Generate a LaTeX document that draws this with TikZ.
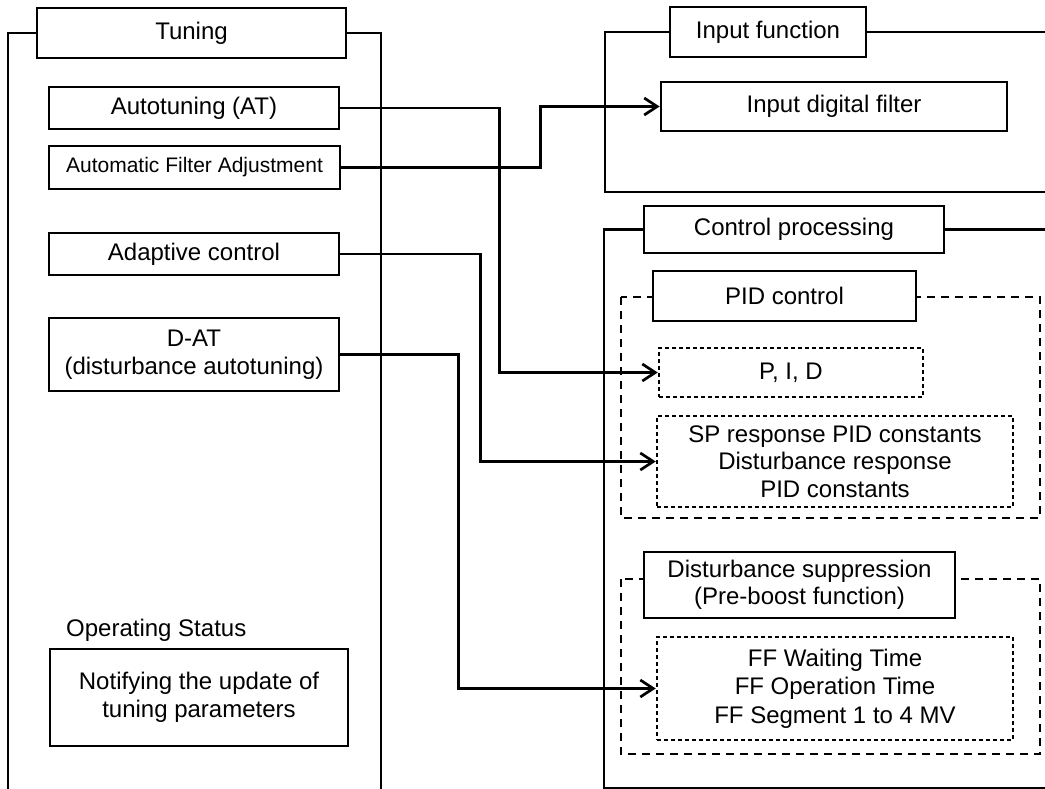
\documentclass[tikz,border=0pt]{standalone}
\usepackage{fontspec}
\setmainfont{Liberation Sans}
\usepackage{tikz}
\usetikzlibrary{arrows.meta, positioning, calc}

\tikzset{
  box/.style={draw, line width=2.7pt, fill=white, inner sep=0pt, align=center,
    font=\fontsize{24}{27.5}\selectfont},
  dotbox/.style={box, dash pattern=on 4pt off 3pt, line width=2.5pt},
  frame/.style={line width=2.7pt},
  dashframe/.style={line width=2.5pt, dash pattern=on 8pt off 6pt},
  link/.style={->, line width=2.7pt},
}

\begin{document}
\begin{tikzpicture}[x=1pt, y=-1pt, >={Straight Barb[length=13pt,width=17pt]}]
\useasboundingbox (0,0) rectangle (1045,789);

% tuning side
\node[box, minimum width=309pt, minimum height=50pt] (tuning) at (191.5,33) {Tuning};
\draw[frame] (tuning.west) -| (8,792);
\draw[frame] (tuning.east) -| (381,792);

\node[box, minimum width=290pt, minimum height=42pt] (at) at (194,108) {Autotuning (AT)};
\node[box, minimum width=291pt, minimum height=43pt,
  font=\fontsize{21}{24}\selectfont] (afa) at (194.5,167.5) {Automatic Filter Adjustment};
\node[box, minimum width=290pt, minimum height=42pt] (adapt) at (194,254) {Adaptive control};
\node[box, minimum width=290pt, minimum height=73pt] (dat) at (194,354.5)
  {D-AT\\(disturbance autotuning)};

\node[anchor=base west, inner sep=0pt, font=\fontsize{24}{27.5}\selectfont]
  (opstat) at (66,636) {Operating Status};
\node[box, minimum width=298pt, minimum height=97pt] (notify) at (199,697.5)
  {Notifying the update of\\tuning parameters};

% input function
\node[box, minimum width=196pt, minimum height=50pt] (infn) at (768,32) {Input function};
\draw[frame] (infn.west) -| (605,192) -- (1048,192);
\draw[frame] (infn.east) -- ++(190,0);
\node[box, minimum width=346pt, minimum height=49pt] (filter) at (834,106.5) {Input digital filter};

% control processing
\node[box, minimum width=300pt, minimum height=47pt] (ctrl) at (794,229.5) {Control processing};
\draw[frame] (ctrl.west) -| (604,788) -- (1048,788);
\draw[frame] (ctrl.east) -- ++(110,0);

\draw[dashframe] (621,297) rectangle (1040,518);
\node[box, minimum width=263pt, minimum height=50pt] (pid) at (784.5,296) {PID control};
\node[dotbox, minimum width=264pt, minimum height=49pt] (pidc) at (791,372.5) {P, I, D};
\node[dotbox, minimum width=356pt, minimum height=91pt] (sp) at (835,461.5)
  {SP response PID constants\\Disturbance response\\PID constants};

\draw[dashframe] (621,579) rectangle (1040,754);
\node[box, minimum width=311pt, minimum height=66pt] (dist) at (799.5,585)
  {Disturbance suppression\\(Pre-boost function)};
\node[dotbox, minimum width=356pt, minimum height=103pt,
  font=\fontsize{24}{28.5}\selectfont] (ff) at (835,688.5)
  {FF Waiting Time\\FF Operation Time\\FF Segment 1 to 4 MV};

% connectors
\draw[link] (at.east) -- ++(159,0) |- (pidc.west);
\draw[link] (afa.east) -- ++(199,0) |- (filter.west);
\draw[link] (adapt.east) -- ++(140,0) |- (sp.west);
\draw[link] (dat.east) -- ++(118,0) |- (ff.west);
\end{tikzpicture}
\end{document}
